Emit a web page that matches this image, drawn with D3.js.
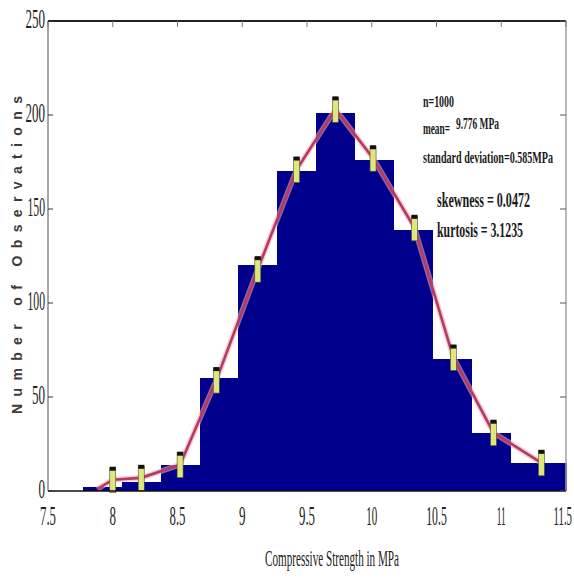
<!DOCTYPE html>
<html>
<head>
<meta charset="utf-8">
<script src="https://cdn.jsdelivr.net/npm/d3@7"></script>
<style>
body{margin:0;background:#fff;}
svg{display:block;}
</style>
</head>
<body>
<svg id="graph" width="574" height="581"></svg>
<script>
// histogram bins (MPa) and counts
var binLo=[7.77,8.07,8.37,8.67,8.97,9.27,9.57,9.87,10.17,10.47,10.77,11.07];
var binHi=[8.07,8.37,8.67,8.97,9.27,9.57,9.87,10.17,10.47,10.77,11.07,11.5];
var counts=[2,5,14,60,120,170,201,176,139,70,31,15];

// fitted curve with markers
var curveX=[7.88,8.0,8.22,8.52,8.80,9.12,9.42,9.72,10.01,10.33,10.63,10.94,11.31];
var curveY=[1,6,7,14,59,118,171,203,177,140,71,31,15];
var markerX=[8.0,8.22,8.52,8.80,9.12,9.42,9.72,10.01,10.33,10.63,10.94,11.31];
var markerY=[6,7,14,59,118,171,203,177,140,71,31,15];

var xTicks=[7.5,8,8.5,9,9.5,10,10.5,11,11.5];
var xTickLabels=["7.5","8","8.5","9","9.5","10","10.5","11","11.5"];
var yTicks=[0,50,100,150,200,250];

var screen={left:48,right:566,top:21,bottom:491};
var svg=d3.select("#graph");

var xScale=d3.scaleLinear()
    .domain([7.5,11.5])
    .range([screen.left,screen.right]);
var yScale=d3.scaleLinear()
    .domain([0,250])
    .range([screen.bottom,screen.top]);

// narrow, tall glyph widths like the squeezed original
var labelWidth=function(s)
{
    var w=0;
    s.split("").forEach(function(c){
        if(c==".") w+=3;
        else if(c=="1") w+=4.5;
        else w+=6.5;
    });
    return w;
}

//bars
svg.append("g")
    .selectAll("rect")
    .data(counts)
    .enter()
    .append("rect")
    .attr("x",function(d,i){return xScale(binLo[i]);})
    .attr("width",function(d,i){return xScale(binHi[i])-xScale(binLo[i])+0.5;})
    .attr("y",function(d){return yScale(d);})
    .attr("height",function(d){return yScale(0)-yScale(d);})
    .attr("fill","#00008c")
    .attr("shape-rendering","crispEdges");

//fit line
var pts=curveX.map(function(v,i){return [v,curveY[i]];});
var line=d3.line()
    .x(function(p){return xScale(p[0]);})
    .y(function(p){return yScale(p[1]);});
svg.append("path")
    .attr("d",line(pts))
    .attr("fill","none")
    .attr("stroke","#f0a8b8")
    .attr("stroke-opacity",0.6)
    .attr("stroke-width",5.5);
svg.append("path")
    .attr("d",line(pts))
    .attr("fill","none")
    .attr("stroke","#b53a60")
    .attr("stroke-width",2.6);

//markers
var mk=svg.append("g")
    .selectAll("g")
    .data(markerY)
    .enter()
    .append("g")
    .attr("transform",function(d,i){return "translate("+xScale(markerX[i])+","+yScale(d)+")";});
mk.append("rect")
    .attr("x",-3).attr("y",-12).attr("width",6).attr("height",25)
    .attr("fill","#dfe67c")
    .attr("stroke","#4a4a30")
    .attr("stroke-width",0.6);
mk.append("rect")
    .attr("x",-3).attr("y",-13).attr("width",6).attr("height",4)
    .attr("fill","#111");

//axes box
svg.append("line")
    .attr("x1",screen.left).attr("x2",screen.left)
    .attr("y1",screen.top).attr("y2",screen.bottom)
    .attr("stroke","#8a8a8a").attr("stroke-width",1.5);
svg.append("line")
    .attr("x1",screen.right).attr("x2",screen.right)
    .attr("y1",screen.top).attr("y2",screen.bottom)
    .attr("stroke","#a0a0a0").attr("stroke-width",1.5);
svg.append("line")
    .attr("x1",screen.left).attr("x2",screen.right)
    .attr("y1",screen.top).attr("y2",screen.top)
    .attr("stroke","#222").attr("stroke-width",2);
svg.append("line")
    .attr("x1",screen.left).attr("x2",screen.right)
    .attr("y1",screen.bottom).attr("y2",screen.bottom)
    .attr("stroke","#111").attr("stroke-width",1.5);

//ticks (inward)
svg.append("g").selectAll("line").data(xTicks).enter().append("line")
    .attr("x1",function(d){return xScale(d);}).attr("x2",function(d){return xScale(d);})
    .attr("y1",screen.top).attr("y2",screen.top+6)
    .attr("stroke","#777");
svg.append("g").selectAll("line").data(yTicks).enter().append("line")
    .attr("x1",screen.left).attr("x2",screen.left+5)
    .attr("y1",function(d){return yScale(d);}).attr("y2",function(d){return yScale(d);})
    .attr("stroke","#333");
svg.append("g").selectAll("line").data(yTicks).enter().append("line")
    .attr("x1",screen.right-6).attr("x2",screen.right)
    .attr("y1",function(d){return yScale(d);}).attr("y2",function(d){return yScale(d);})
    .attr("stroke","#555");

//tick labels
svg.append("g").selectAll("text").data(xTicks).enter().append("text")
    .attr("x",function(d,i){
        var c=xScale(d), w=labelWidth(xTickLabels[i]);
        return Math.min(c-w/2, 572-w);
    })
    .attr("y",525)
    .attr("font-family","Liberation Serif")
    .attr("font-size",28)
    .attr("fill","#222")
    .attr("textLength",function(d,i){return labelWidth(xTickLabels[i]);})
    .attr("lengthAdjust","spacingAndGlyphs")
    .text(function(d,i){return xTickLabels[i];});
svg.append("g").selectAll("text").data(yTicks).enter().append("text")
    .attr("x",function(d){return 45-labelWidth(String(d));})
    .attr("y",function(d){return yScale(d)+7;})
    .attr("font-family","Liberation Serif")
    .attr("font-size",28)
    .attr("fill","#222")
    .attr("textLength",function(d){return labelWidth(String(d));})
    .attr("lengthAdjust","spacingAndGlyphs")
    .text(function(d){return d;});

//axis titles
svg.append("text")
    .attr("transform","translate(22,255) rotate(-90)")
    .attr("text-anchor","middle")
    .attr("font-family","Liberation Sans")
    .attr("font-weight","bold")
    .attr("font-size",14)
    .attr("fill","#3a3a3a")
    .attr("textLength",318)
    .attr("lengthAdjust","spacing")
    .text("Number of Observations");
svg.append("text")
    .attr("x",265)
    .attr("y",566)
    .attr("font-family","Liberation Serif")
    .attr("font-size",23)
    .attr("fill","#222")
    .attr("textLength",134)
    .attr("lengthAdjust","spacingAndGlyphs")
    .text("Compressive Strength in MPa");

//stats text
var notes=[
    {t:"n=1000",x:423,y:107,w:31,s:16},
    {t:"mean=",x:423,y:134,w:27,s:16},
    {t:"9.776 MPa",x:456,y:129,w:43,s:16},
    {t:"standard deviation=0.585MPa",x:423,y:163,w:130,s:16},
    {t:"skewness = 0.0472",x:437,y:207,w:93,s:20},
    {t:"kurtosis = 3.1235",x:437,y:237,w:86,s:20}
];
svg.append("g").selectAll("text").data(notes).enter().append("text")
    .attr("x",function(d){return d.x;})
    .attr("y",function(d){return d.y;})
    .attr("font-family","Liberation Serif")
    .attr("font-weight","bold")
    .attr("font-size",function(d){return d.s;})
    .attr("fill","#1a1a1a")
    .attr("textLength",function(d){return d.w;})
    .attr("lengthAdjust","spacingAndGlyphs")
    .text(function(d){return d.t;});
</script>
</body>
</html>
